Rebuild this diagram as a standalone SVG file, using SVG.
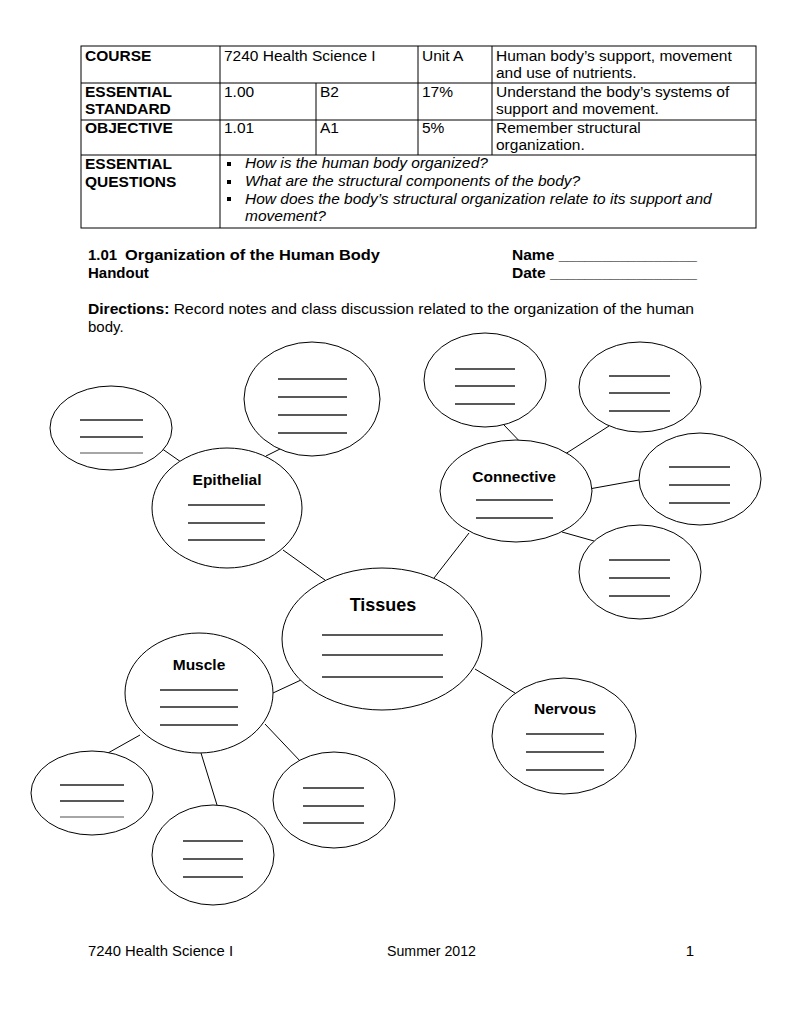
<svg xmlns="http://www.w3.org/2000/svg" width="791" height="1024" viewBox="0 0 791 1024">
<style>
text{font-family:"Liberation Sans",Arial,sans-serif;fill:#000}
.t{font-size:15.5px}
.b{font-weight:bold}
.i{font-style:italic}
.n{font-family:"Liberation Sans Narrow","Liberation Sans",Arial,sans-serif;font-size:15px}
.grid{stroke:#000;stroke-width:1;fill:none}
.ell{fill:#fff;stroke:#000;stroke-width:1}
.bl{stroke:#222;stroke-width:1.4}
.bg{stroke:#888;stroke-width:1.4}
.c{stroke:#000;stroke-width:1}
.lab{font-size:15.5px;font-weight:bold;text-anchor:middle}
</style>
<rect width="791" height="1024" fill="#fff"/>
<g id="table">
<rect class="grid" x="81" y="46" width="675" height="182"/>
<line class="grid" x1="81" y1="83" x2="756" y2="83"/>
<line class="grid" x1="81" y1="120" x2="756" y2="120"/>
<line class="grid" x1="81" y1="155" x2="756" y2="155"/>
<line class="grid" x1="220" y1="46" x2="220" y2="228"/>
<line class="grid" x1="316" y1="83" x2="316" y2="155"/>
<line class="grid" x1="418" y1="46" x2="418" y2="155"/>
<line class="grid" x1="492" y1="46" x2="492" y2="155"/>
<text class="t b" x="85" y="61">COURSE</text>
<text class="t" x="224" y="61">7240 Health Science I</text>
<text class="t" x="422" y="61">Unit A</text>
<text class="t" x="496" y="61">Human body’s support, movement</text>
<text class="t" x="496" y="78">and use of nutrients.</text>
<text class="t b" x="85" y="97">ESSENTIAL</text>
<text class="t b" x="85" y="114">STANDARD</text>
<text class="t" x="224" y="97">1.00</text>
<text class="t" x="320" y="97">B2</text>
<text class="t" x="422" y="97">17%</text>
<text class="t" x="496" y="97">Understand the body’s systems of</text>
<text class="t" x="496" y="114">support and movement.</text>
<text class="t b" x="85" y="133">OBJECTIVE</text>
<text class="t" x="224" y="133">1.01</text>
<text class="t" x="320" y="133">A1</text>
<text class="t" x="422" y="133">5%</text>
<text class="t" x="496" y="133">Remember structural</text>
<text class="t" x="496" y="150">organization.</text>
<text class="t b" x="85" y="169">ESSENTIAL</text>
<text class="t b" x="85" y="187">QUESTIONS</text>
<rect x="227" y="162" width="4" height="4" fill="#000"/>
<rect x="227" y="180" width="4" height="4" fill="#000"/>
<rect x="227" y="197" width="4" height="4" fill="#000"/>
<text class="t i" x="245" y="168">How is the human body organized?</text>
<text class="t i" x="245" y="186">What are the structural components of the body?</text>
<text class="t i" x="245" y="204">How does the body’s structural organization relate to its support and</text>
<text class="t i" x="245" y="221">movement?</text>
</g>
<g id="header">
<text class="n b" x="88" y="260">1.01</text>
<text class="n b" x="125" y="260" textLength="255" lengthAdjust="spacingAndGlyphs">Organization of the Human Body</text>
<text class="n b" x="88" y="278">Handout</text>
<text class="n b" x="512" y="260" textLength="185" lengthAdjust="spacingAndGlyphs">Name ________________</text>
<text class="n b" x="512" y="278" textLength="185" lengthAdjust="spacingAndGlyphs">Date _________________</text>
<text class="n" x="88" y="314" textLength="606" lengthAdjust="spacingAndGlyphs"><tspan font-weight="bold">Directions:</tspan> Record notes and class discussion related to the organization of the human</text>
<text class="n" x="88" y="332">body.</text>
</g>
<g id="connectors">
<line class="c" x1="161" y1="448" x2="181" y2="462"/>
<line class="c" x1="282" y1="448" x2="266" y2="456"/>
<line class="c" x1="283" y1="550" x2="325" y2="580"/>
<line class="c" x1="504" y1="425" x2="526" y2="448"/>
<line class="c" x1="609" y1="426" x2="562" y2="456"/>
<line class="c" x1="639" y1="480" x2="589" y2="489"/>
<line class="c" x1="562" y1="532" x2="594" y2="541"/>
<line class="c" x1="469" y1="533" x2="434" y2="578"/>
<line class="c" x1="273" y1="693" x2="301" y2="680"/>
<line class="c" x1="108" y1="753" x2="140" y2="735"/>
<line class="c" x1="201" y1="753" x2="217" y2="805"/>
<line class="c" x1="265" y1="724" x2="301" y2="762"/>
<line class="c" x1="475" y1="669" x2="515" y2="693"/>
</g>
<g id="tl-small">
<ellipse class="ell" cx="111" cy="428" rx="61" ry="42"/>
<line class="bl" x1="80" y1="420" x2="143" y2="420"/>
<line class="bl" x1="80" y1="437" x2="143" y2="437"/>
<line class="bg" x1="80" y1="453" x2="143" y2="453"/>
</g>
<g id="top-circle">
<ellipse class="ell" cx="312" cy="399" rx="68" ry="57"/>
<line class="bl" x1="278" y1="379" x2="347" y2="379"/>
<line class="bl" x1="278" y1="397" x2="347" y2="397"/>
<line class="bl" x1="278" y1="415" x2="347" y2="415"/>
<line class="bl" x1="278" y1="433" x2="347" y2="433"/>
</g>
<g id="epithelial">
<ellipse class="ell" cx="227" cy="508" rx="75" ry="60"/>
<text class="lab" x="227" y="485">Epithelial</text>
<line class="bl" x1="188" y1="505" x2="265" y2="505"/>
<line class="bl" x1="188" y1="523" x2="265" y2="523"/>
<line class="bl" x1="188" y1="540" x2="265" y2="540"/>
</g>
<g id="conn-tl">
<ellipse class="ell" cx="485" cy="380" rx="61" ry="47"/>
<line class="bl" x1="455" y1="369" x2="515" y2="369"/>
<line class="bl" x1="455" y1="386" x2="515" y2="386"/>
<line class="bl" x1="455" y1="404" x2="515" y2="404"/>
</g>
<g id="conn-tr">
<ellipse class="ell" cx="640" cy="387" rx="61" ry="45"/>
<line class="bl" x1="609" y1="376" x2="670" y2="376"/>
<line class="bl" x1="609" y1="393" x2="670" y2="393"/>
<line class="bl" x1="609" y1="411" x2="670" y2="411"/>
</g>
<g id="conn-r">
<ellipse class="ell" cx="700" cy="479" rx="61" ry="46"/>
<line class="bl" x1="669" y1="467" x2="730" y2="467"/>
<line class="bl" x1="669" y1="485" x2="730" y2="485"/>
<line class="bl" x1="669" y1="503" x2="730" y2="503"/>
</g>
<g id="conn-br">
<ellipse class="ell" cx="640" cy="572" rx="61" ry="47"/>
<line class="bl" x1="609" y1="560" x2="670" y2="560"/>
<line class="bl" x1="609" y1="578" x2="670" y2="578"/>
<line class="bl" x1="609" y1="596" x2="670" y2="596"/>
</g>
<g id="connective">
<ellipse class="ell" cx="516" cy="491" rx="76" ry="51"/>
<text class="lab" x="514" y="482">Connective</text>
<line class="bl" x1="476" y1="500" x2="553" y2="500"/>
<line class="bl" x1="476" y1="518" x2="553" y2="518"/>
</g>
<g id="tissues">
<ellipse class="ell" cx="382" cy="639" rx="100" ry="71"/>
<text x="383" y="611" font-size="18" font-weight="bold" text-anchor="middle">Tissues</text>
<line class="bl" x1="322" y1="635" x2="443" y2="635"/>
<line class="bl" x1="322" y1="655" x2="443" y2="655"/>
<line class="bl" x1="322" y1="677" x2="443" y2="677"/>
</g>
<g id="muscle">
<ellipse class="ell" cx="199" cy="693" rx="74" ry="60"/>
<text class="lab" x="199" y="670">Muscle</text>
<line class="bl" x1="160" y1="690" x2="238" y2="690"/>
<line class="bl" x1="160" y1="707" x2="238" y2="707"/>
<line class="bl" x1="160" y1="725" x2="238" y2="725"/>
</g>
<g id="mus-bl">
<ellipse class="ell" cx="92" cy="793" rx="61" ry="42"/>
<line class="bl" x1="60" y1="785" x2="124" y2="785"/>
<line class="bl" x1="60" y1="801" x2="124" y2="801"/>
<line class="bg" x1="60" y1="817" x2="124" y2="817"/>
</g>
<g id="mus-bm">
<ellipse class="ell" cx="213" cy="855" rx="61" ry="50"/>
<line class="bl" x1="183" y1="841" x2="243" y2="841"/>
<line class="bl" x1="183" y1="859" x2="243" y2="859"/>
<line class="bl" x1="183" y1="877" x2="243" y2="877"/>
</g>
<g id="mus-r">
<ellipse class="ell" cx="334" cy="800" rx="61" ry="48"/>
<line class="bl" x1="303" y1="788" x2="364" y2="788"/>
<line class="bl" x1="303" y1="806" x2="364" y2="806"/>
<line class="bl" x1="303" y1="823" x2="364" y2="823"/>
</g>
<g id="nervous">
<ellipse class="ell" cx="564" cy="736" rx="72" ry="58"/>
<text class="lab" x="565" y="714">Nervous</text>
<line class="bl" x1="526" y1="734" x2="604" y2="734"/>
<line class="bl" x1="526" y1="752" x2="604" y2="752"/>
<line class="bl" x1="526" y1="770" x2="604" y2="770"/>
</g>
<g id="footer">
<text class="n" x="88" y="956" textLength="145" lengthAdjust="spacingAndGlyphs">7240 Health Science I</text>
<text class="n" x="387" y="956" textLength="89" lengthAdjust="spacingAndGlyphs">Summer 2012</text>
<text class="n" x="694" y="956" text-anchor="end">1</text>
</g>
</svg>
